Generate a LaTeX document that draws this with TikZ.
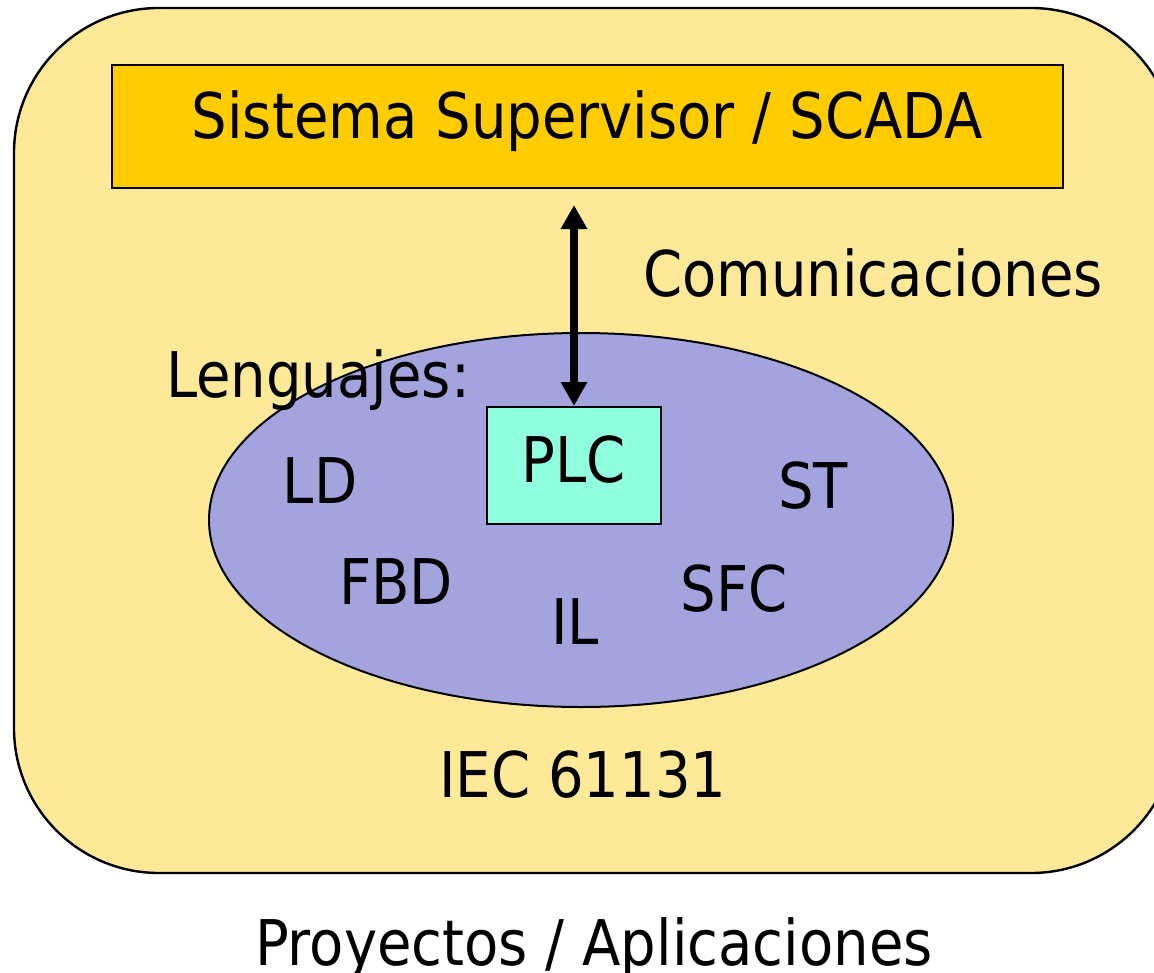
\documentclass[tikz,border=0pt]{standalone}
\usepackage{fontspec}
\setmainfont[FakeStretch=0.89]{DejaVu Sans}
\usetikzlibrary{shapes.geometric,arrows.meta}
\definecolor{bgyellow}{HTML}{FEE998}
\definecolor{scadafill}{HTML}{FFCC00}
\definecolor{ellfill}{HTML}{A3A3DE}
\definecolor{plcfill}{HTML}{90FFE0}
\tikzset{
  lbl/.style={anchor=base, inner sep=0pt, font=\fontsize{63}{70}\selectfont},
  boxed/.style={draw=black, line width=2pt, inner sep=0pt, anchor=base, font=\fontsize{63}{70}\selectfont},
  comm/.style={line width=7.5pt, {Triangle[width=25pt,length=24pt]}-{Triangle[width=25pt,length=24pt]}}
}
\begin{document}
\begin{tikzpicture}[x=1pt,y=-1pt]
\useasboundingbox (0,0) rectangle (1154,972);
\fill[white] (0,0) rectangle (1154,972);
\begin{scope}
\clip (0,0) rectangle (1154,972);
\draw[fill=bgyellow, line width=2.4pt, rounded corners=145pt] (14,8) rectangle (1176,873);
\end{scope}
\node[boxed, fill=scadafill, minimum width=951pt, text height=73pt, text depth=50pt] (scada) at (587.5,138) {Sistema Supervisor / SCADA};
\node[draw=black, line width=2pt, ellipse, fill=ellfill, minimum width=744pt, minimum height=374pt, inner sep=0pt] (lang) at (581,520) {};
\node[boxed, fill=plcfill, minimum width=174pt, text height=75pt, text depth=42pt] (plc) at (574,482) {PLC};
\draw[comm, shorten <=16pt] (plc.north |- scada.south) -- (plc.north);
\node[lbl] (comtxt) at (873,296) {Comunicaciones};
\node[lbl] (lentxt) at (318,397) {Lenguajes:};
\node[lbl] (ld) at (320,503) {LD};
\node[lbl] (st) at (813,508) {ST};
\node[lbl] (fbd) at (396,604) {FBD};
\node[lbl] (sfc) at (734,611) {SFC};
\node[lbl] (il) at (575,644) {IL};
\node[lbl] (iec) at (583,797) {IEC 61131};
\node[lbl] (proj) at (594,965) {Proyectos / Aplicaciones};
\end{tikzpicture}
\end{document}
